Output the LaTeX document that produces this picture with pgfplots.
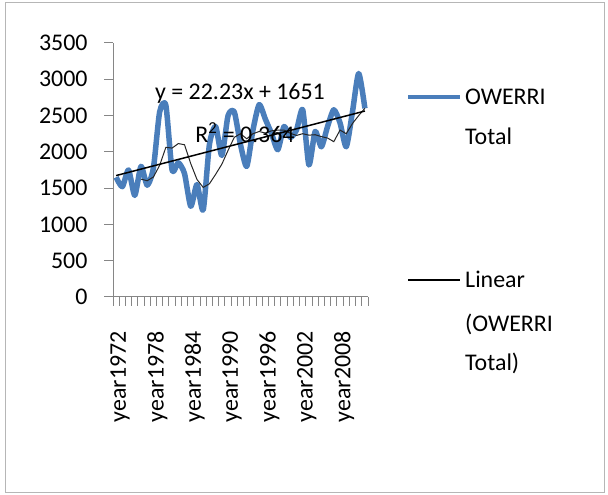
\documentclass[border=0pt]{standalone}
\usepackage{fontspec}
\setmainfont{Carlito}
\usepackage{pgfplots}
\pgfplotsset{compat=1.18}
\definecolor{owblue}{HTML}{4A7EBB}
\definecolor{axgray}{HTML}{868686}
\newcommand{\cf}{\fontsize{24}{28}\selectfont}
\begin{document}
\begin{tikzpicture}[x=1bp,y=1bp]
\useasboundingbox (0,0) rectangle (608,495);
\draw[color=axgray!60, line width=1bp] (5,2) rectangle (604,492);
\begin{axis}[
  at={(113bp,198bp)}, anchor=south west,
  scale only axis, width=255bp, height=254bp,
  xmin=-0.5, xmax=40.5, ymin=0, ymax=3500,
  axis x line*=bottom, axis y line*=left,
  axis line style={axgray, line width=1bp},
  tick style={axgray, line width=1bp},
  tick align=outside,
  major tick length=9bp,
  ytick={0,500,...,3500},
  xtick={-0.5,0.5,...,40.5},
  xticklabels={},
  extra x ticks={0,6,...,36},
  extra x tick labels={year1972,year1978,year1984,year1990,year1996,year2002,year2008},
  extra x tick style={major tick length=0pt,
     xticklabel style={font=\cf, xshift=4bp, yshift=-31bp, rotate=90, anchor=east}},
  /pgf/number format/assume math mode=true,
  /pgf/number format/1000 sep={},
  yticklabel style={font=\cf, xshift=-13bp},
  clip=false,
]
% OWERRI Total
\addplot[owblue, line width=5.5bp, line join=round, smooth, tension=0.4] coordinates {
(0,1650) (1,1520) (2,1750) (3,1400) (4,1800) (5,1540) (6,1780) (7,2550) (8,2640) (9,1750)
(10,1850) (11,1700) (12,1250) (13,1550) (14,1200) (15,2100) (16,2350) (17,1950) (18,2500) (19,2550)
(20,2100) (21,1800) (22,2300) (23,2650) (24,2450) (25,2250) (26,2030) (27,2350) (28,2200) (29,2300)
(30,2580) (31,1820) (32,2280) (33,2070) (34,2350) (35,2580) (36,2400) (37,2070) (38,2550) (39,3080)
(40,2600)};
% 5-year moving average (thin)
\addplot[black!85, line width=1bp] coordinates {
(4,1624) (5,1602) (6,1654) (7,1814) (8,2062) (9,2052) (10,2114) (11,2098) (12,1838) (13,1620)
(14,1510) (15,1560) (16,1690) (17,1830) (18,2020) (19,2200) (20,2250) (21,2180) (22,2250) (23,2280)
(24,2260) (25,2290) (26,2300) (27,2300) (28,2256) (29,2226) (30,2250) (31,2230) (32,2236) (33,2210)
(34,2190) (35,2140) (36,2300) (37,2250) (38,2390) (39,2500) (40,2600)};
% Linear trend
\addplot[black, line width=1.5bp] coordinates {(0,1673.2) (40,2562.4)};
\end{axis}
\node[font=\cf] at (240,402) {y = 22.23x + 1651};
\node[font=\cf] at (245,362) {R\textsuperscript{2} = 0.364};
% legend
\draw[owblue, line width=4bp] (408,398) -- (460,398);
\node[font=\cf, anchor=base west, inner sep=0pt] at (465,390) {OWERRI};
\node[font=\cf, anchor=base west, inner sep=0pt] at (465,350) {Total};
\draw[black, line width=1.5bp] (408,215) -- (460,215);
\node[font=\cf, anchor=base west, inner sep=0pt] at (465,207) {Linear};
\node[font=\cf, anchor=base west, inner sep=0pt] at (465,163) {(OWERRI};
\node[font=\cf, anchor=base west, inner sep=0pt] at (465,124) {Total)};
\end{tikzpicture}
\end{document}
